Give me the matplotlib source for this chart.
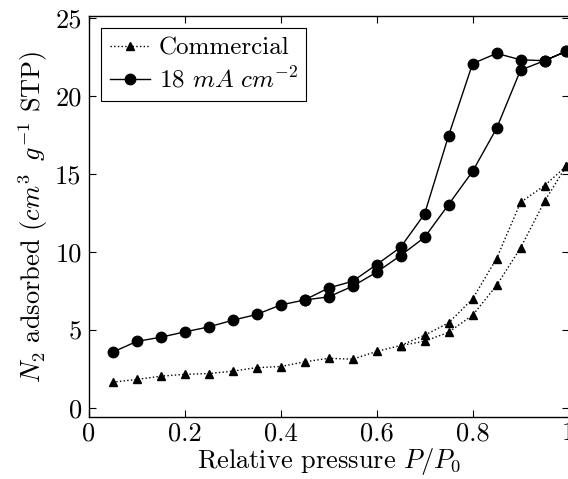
import matplotlib
matplotlib.use("Agg")
import matplotlib.pyplot as plt
from matplotlib.ticker import FixedLocator, FixedFormatter

plt.rcParams['font.family'] = 'serif'
plt.rcParams['font.serif'] = ['cmr10', 'DejaVu Serif']
plt.rcParams['mathtext.fontset'] = 'cm'
plt.rcParams['axes.unicode_minus'] = False

# Commercial (adsorption and desorption branches)
com_ads_x = [0.05, 0.1, 0.15, 0.2, 0.25, 0.3, 0.35, 0.4, 0.45, 0.5, 0.55, 0.6, 0.65,
             0.7, 0.75, 0.8, 0.85, 0.9, 0.95, 0.995]
com_ads_y = [1.65, 1.82, 2.03, 2.15, 2.2, 2.35, 2.58, 2.65, 2.95, 3.18, 3.12, 3.62, 4.0,
             4.27, 4.85, 5.94, 7.85, 10.26, 13.25, 15.5]
com_des_x = [0.995, 0.95, 0.9, 0.85, 0.8, 0.75, 0.7, 0.65]
com_des_y = [15.5, 14.26, 13.18, 9.58, 6.99, 5.45, 4.66, 4.0]

# 18 mA cm^-2
ma_ads_x = [0.05, 0.1, 0.15, 0.2, 0.25, 0.3, 0.35, 0.4, 0.45, 0.5, 0.55, 0.6, 0.65,
            0.7, 0.75, 0.8, 0.85, 0.9, 0.95, 0.995]
ma_ads_y = [3.57, 4.26, 4.53, 4.87, 5.19, 5.62, 5.99, 6.6, 6.92, 7.12, 7.8, 8.7, 9.77,
            10.94, 13.04, 15.17, 17.93, 21.67, 22.27, 22.87]
ma_des_x = [0.995, 0.95, 0.9, 0.85, 0.8, 0.75, 0.7, 0.65, 0.6, 0.55, 0.5, 0.45]
ma_des_y = [22.87, 22.27, 22.33, 22.74, 22.08, 17.46, 12.44, 10.3, 9.19, 8.12, 7.69, 6.92]

x_ticks = [0, 0.2, 0.4, 0.6, 0.8, 1.0]
x_labels = ['0', '0.2', '0.4', '0.6', '0.8', '1']
y_ticks = [0, 5, 10, 15, 20, 25]
y_labels = ['0', '5', '10', '15', '20', '25']

fig = plt.figure(figsize=(5.68, 4.79), dpi=100)
ax = fig.add_axes([0.156, 0.129, 0.845, 0.838])

ax.plot(com_ads_x + com_des_x, com_ads_y + com_des_y, linestyle=':', color='black',
        linewidth=1.0, marker='^', markersize=6, label='Commercial')
ax.plot(ma_ads_x + ma_des_x, ma_ads_y + ma_des_y, linestyle='-', color='black',
        linewidth=1.0, marker='o', markersize=7.5, label=r'18 $mA\ cm^{-2}$')

ax.set_xlim(0, 1)
ax.set_ylim(-0.6, 25.15)
ax.xaxis.set_major_locator(FixedLocator(x_ticks))
ax.xaxis.set_major_formatter(FixedFormatter(x_labels))
ax.yaxis.set_major_locator(FixedLocator(y_ticks))
ax.yaxis.set_major_formatter(FixedFormatter(y_labels))
ax.tick_params(direction='in', length=5, width=0.8, top=True, right=True,
               labelsize=19)
ax.tick_params(axis='x', pad=3)
ax.tick_params(axis='y', pad=5)
for s in ax.spines.values():
    s.set_linewidth(1.0)

ax.set_xlabel(r'Relative pressure $P/P_0$', fontsize=19, labelpad=1)
ax.set_ylabel(r'$N_2$ adsorbed ($cm^3\;\;g^{-1}$ STP)', fontsize=19, labelpad=4)

leg = ax.legend(loc='upper left', fontsize=18, frameon=True, fancybox=False,
                edgecolor='black', framealpha=1, borderaxespad=0.5,
                handlelength=1.6, handletextpad=0.35, borderpad=0.35,
                labelspacing=0.3)
leg.get_frame().set_linewidth(0.8)

fig.savefig('out.png', dpi=100)
